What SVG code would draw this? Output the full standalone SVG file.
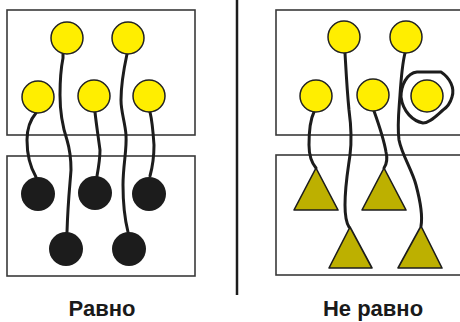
<svg xmlns="http://www.w3.org/2000/svg" width="460" height="322" viewBox="0 0 460 322">
<style>
.box{fill:none;stroke:#3a3a3a;stroke-width:1.6}
.y{fill:#ffee00;stroke:#222;stroke-width:1.5}
.b{fill:#1c1c1c}
.t{fill:#bdb000;stroke:#1c1c1c;stroke-width:1.6;stroke-linejoin:round}
.w{fill:none;stroke:#1c1c1c;stroke-width:3;stroke-linecap:round;stroke-linejoin:round}
.lbl{font-family:"Liberation Sans",Arial,sans-serif;font-weight:bold;font-size:22px;fill:#1a1a1a;text-anchor:middle}
</style>
<rect width="460" height="322" fill="#fff"/>
<g id="frames">
<rect class="box" x="7" y="10" width="188" height="125"/>
<rect class="box" x="7" y="156" width="188" height="120"/>
<rect class="box" x="276" y="10" width="190" height="125"/>
<rect class="box" x="276" y="155" width="190" height="120"/>
<line x1="237" y1="0" x2="237" y2="295" stroke="#1c1c1c" stroke-width="2.5"/>
</g>
<g id="connectors">
<path class="w" d="M36,113 C30,120 27,128 27,140 C27,152 29,165 36,177"/>
<path class="w" d="M63,54 L63,58 C61,68 60,78 60,95 C60,110 62,125 67,140 C70,150 71,160 71,170 C70,185 68,200 67,232"/>
<path class="w" d="M95,112 C96,122 98,135 100,150 C100,158 99,165 97,176"/>
<path class="w" d="M127,54 C124,68 121,85 121,100 C121,112 125,122 126,135 C127,150 123,165 123,185 C123,205 125,220 128,232"/>
<path class="w" d="M150,112 C152,120 153,130 154,145 C154,155 153,165 150,176"/>
<path class="w" d="M314,112 C310,120 309,130 309,145 C309,155 311,162 316,168"/>
<path class="w" d="M345,53 C346,70 347,90 349,110 C351,125 352,140 350,155 C348,170 345,185 345,205 C345,215 346,222 349,227"/>
<path class="w" d="M374,111 C379,125 384,140 386,152 C388,160 386,165 384,168"/>
<path class="w" d="M405,53 C402,65 401,80 400,95 C399,110 397,125 399,140 C402,155 412,170 416,185 C420,200 423,215 421,226"/>
<path class="w" d="M401,97 C401,85 407,73 417,72 L441,72 C450,78 455,88 452,97 C450,104 446,108 443,110 C436,116 430,123 423,123 C413,121 403,112 401,97 Z" stroke-width="2.6"/>
</g>
<g id="node-left-yellow">
<circle class="y" cx="67" cy="38" r="16"/>
<circle class="y" cx="128" cy="38" r="16"/>
<circle class="y" cx="38" cy="97" r="16"/>
<circle class="y" cx="94" cy="96" r="16"/>
<circle class="y" cx="149" cy="96" r="16"/>
</g>
<g id="node-left-black">
<circle class="b" cx="38" cy="194" r="17"/>
<circle class="b" cx="95" cy="193" r="17"/>
<circle class="b" cx="149" cy="194" r="17"/>
<circle class="b" cx="66" cy="249" r="17"/>
<circle class="b" cx="129" cy="249" r="17"/>
</g>
<g id="node-right-yellow">
<circle class="y" cx="344" cy="37" r="16"/>
<circle class="y" cx="406" cy="37" r="16"/>
<circle class="y" cx="316" cy="96" r="16"/>
<circle class="y" cx="373" cy="95" r="16"/>
<circle class="y" cx="427" cy="96" r="16"/>
</g>
<g id="node-right-triangles">
<polygon class="t" points="316,168 338,210 294,210"/>
<polygon class="t" points="384,168 406,210 362,210"/>
<polygon class="t" points="350,227 372,268 329,268"/>
<polygon class="t" points="421,226 442,268 398,268"/>
</g>
<g id="labels">
<text class="lbl" x="102" y="316">Равно</text>
<text class="lbl" x="373" y="316">Не равно</text>
</g>
</svg>
